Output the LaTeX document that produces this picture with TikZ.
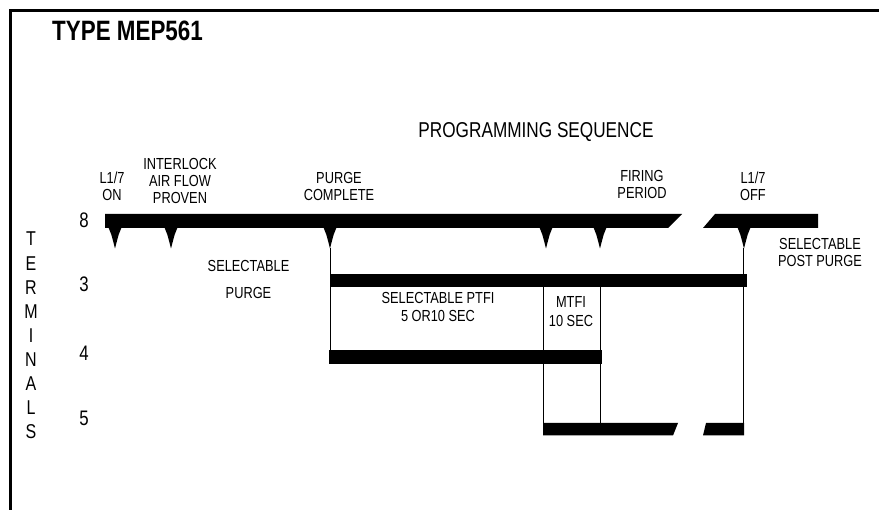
\documentclass[tikz,border=0pt]{standalone}
\usepackage{fontspec}
\setmainfont{Liberation Sans}[FakeStretch=0.8]
\begin{document}
\begin{tikzpicture}[x=1pt,y=-1pt,
  lab/.style={anchor=north,inner sep=0pt,align=center,font={\fontsize{16}{17}\selectfont}},
  term/.style={anchor=north,inner sep=0pt,align=center,font={\fontsize{21}{24}\selectfont}},
  barfill/.style={fill=black},
  tick/.style={line width=1pt},
  spike/.pic={\fill (-6.5,-0.5) .. controls (-4,5) .. (0,20.5) .. controls (4,5) .. (6.5,-0.5) -- cycle;}
 ]
\useasboundingbox (0,0) rectangle (879,510);
% frame
\draw[line width=2.5pt] (10.5,510) -- (10.5,10.5) -- (879,10.5);
% titles
\node[anchor=north west,inner sep=0pt,font={\fontsize{28}{30}\selectfont\bfseries}] (title) at (52,21) {TYPE MEP561};
\node[anchor=north,inner sep=0pt,font={\fontsize{21.5}{24}\selectfont}] (seq) at (536,122) {PROGRAMMING SEQUENCE};
% terminals
\node[term,font={\fontsize{20}{24.1}\selectfont}] (terms) at (31,232) {T\\E\\R\\M\\I\\N\\A\\L\\S};
\node[term] (t8) at (84,213) {8};
\node[term] (t3) at (84,277) {3};
\node[term] (t4) at (84,346) {4};
\node[term] (t5) at (84,411) {5};
% labels
\node[lab] (l17on) at (112,172) {L1/7\\ON};
\node[lab] (inter) at (180,158) {INTERLOCK\\AIR FLOW\\PROVEN};
\node[lab] (pcomp) at (339,172) {PURGE\\COMPLETE};
\node[lab] (firing) at (642,170) {FIRING\\PERIOD};
\node[lab] (l17off) at (753,172) {L1/7\\OFF};
\node[lab] (post) at (820,238) {SELECTABLE\\POST PURGE};
\node[lab,font={\fontsize{16}{27}\selectfont}] (spurge) at (248.5,260) {SELECTABLE\\PURGE};
\node[lab,font={\fontsize{16}{18.5}\selectfont}] (ptfi) at (438,292) {SELECTABLE PTFI\\5 OR10 SEC};
\node[lab,font={\fontsize{16}{19}\selectfont}] (mtfi) at (571,296) {MTFI\\10 SEC};
% bars
\fill[barfill] (105,214) -- (682,214) -- (668,228) -- (105,228) -- cycle;
\fill[barfill] (715,214) -- (818,214) -- (818,228) -- (703,228) -- cycle;
\fill[barfill] (330,274) rectangle (747,287);
\fill[barfill] (329,350) rectangle (602,364);
\fill[barfill] (543,423) -- (678,423) -- (673,435.5) -- (543,435.5) -- cycle;
\fill[barfill] (706,423) -- (744,423) -- (744,435.5) -- (703,435.5) -- cycle;
% spikes
\foreach \sx in {115,171,330,546,600,744} \pic at (\sx,228) {spike};
% named points
\coordinate (pctip) at (330,248);
\coordinate (b4a) at (330,350);
\coordinate (b3a) at (543,287);
\coordinate (b5a) at (543,423);
\coordinate (b3b) at (600,287);
\coordinate (b5b) at (600,423);
\coordinate (offtip) at (743.5,248);
\coordinate (b5c) at (743.5,423);
% connectors
\draw[tick] (pctip) -- (b4a);
\draw[tick] (b3a) -- (b5a);
\draw[tick] (b3b) -- (b5b);
\draw[tick] (offtip) -- (b5c);
\end{tikzpicture}
\end{document}
